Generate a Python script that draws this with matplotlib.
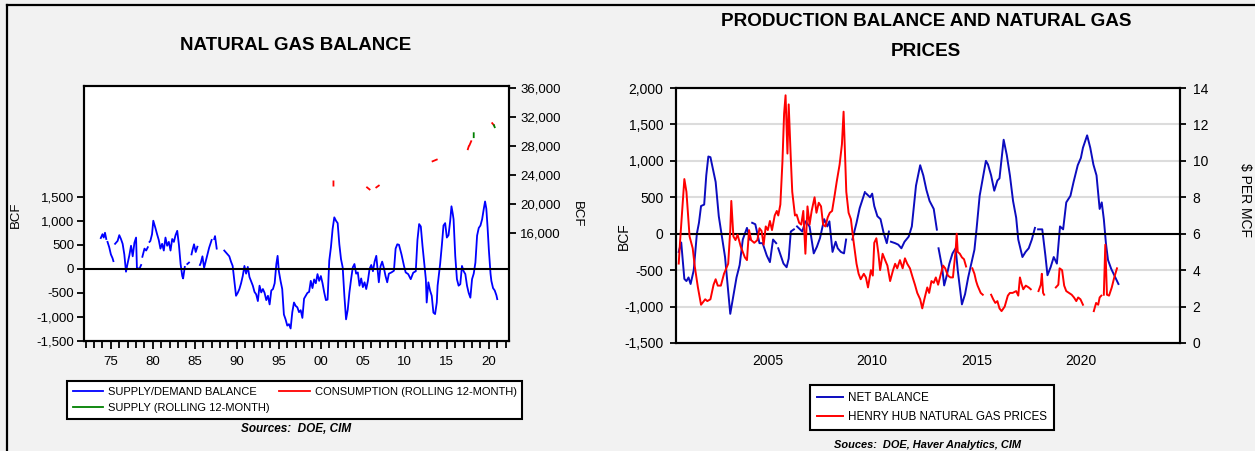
import numpy as np
import matplotlib.pyplot as plt
from matplotlib import font_manager
from matplotlib.lines import Line2D
from matplotlib.ticker import FuncFormatter

nan = np.nan

# ---- left chart: natural gas balance (BCF) ----
bal_year = [1973.8, 1974.0, 1974.15, 1974.3, 1974.45, nan, 1974.6, 1974.8, 1975.0, 1975.2, 1975.3, nan,
            1975.5, 1975.6, 1975.8, 1976.0, 1976.2, 1976.4, 1976.6, 1976.8, 1977.0, 1977.2, 1977.4,
            1977.6, 1977.8, 1978.0, 1978.1, 1978.4, 1978.6, nan, 1978.75, 1979.0, 1979.2, 1979.4, nan,
            1979.6, 1979.7, 1979.9, 1980.05, 1980.3, 1980.5, 1980.7, 1980.9, 1981.1, 1981.3, 1981.5,
            1981.7, 1981.9, 1982.1, 1982.3, 1982.5, 1982.7, 1982.9, 1983.1, 1983.3, 1983.5, 1983.6,
            1983.8, nan, 1984.1, 1984.3, nan, 1984.6, 1984.7, 1984.9, 1985.1, 1985.3, nan, 1985.6, 1985.7,
            1985.9, 1986.1, 1986.3, 1986.5, 1986.7, 1987.0, nan, 1987.3, 1987.4, 1987.6, nan, 1988.5,
            1988.7, 1988.9, 1989.1, 1989.3, 1989.5, 1989.7, 1989.9, 1990.1, 1990.3, 1990.5, 1990.7,
            1990.9, 1991.1, 1991.3, 1991.5, 1991.7, 1991.9, 1992.1, 1992.3, 1992.5, 1992.7, 1992.9,
            1993.1, 1993.3, 1993.5, 1993.7, 1993.9, 1994.1, 1994.3, 1994.5, 1994.7, 1994.85, 1995.0,
            1995.2, 1995.4, 1995.6, 1995.8, 1996.0, 1996.2, 1996.4, 1996.6, 1996.8, 1997.0, 1997.2,
            1997.4, 1997.6, 1997.8, 1998.0, 1998.2, 1998.4, 1998.6, 1998.8, 1999.0, 1999.2, 1999.4,
            1999.6, 1999.8, 2000.0, 2000.2, 2000.4, 2000.6, 2000.8, 2001.0, 2001.2, 2001.4, 2001.6,
            2001.8, 2002.0, 2002.2, 2002.4, 2002.6, 2002.8, 2003.0, 2003.2, 2003.4, 2003.6, 2003.8,
            2004.0, 2004.2, 2004.4, 2004.6, 2004.8, 2005.0, 2005.2, 2005.4, 2005.6, 2005.8, 2006.0,
            2006.2, 2006.4, 2006.6, 2006.8, 2006.9, 2007.1, 2007.3, 2007.5, 2007.7, 2007.9, 2008.1,
            2008.4, 2008.7, 2008.9, 2009.1, 2009.3, 2009.6, 2009.9, 2010.1, 2010.4, 2010.7, 2011.0,
            2011.3, 2011.5, 2011.7, 2011.9, 2012.1, 2012.3, 2012.5, 2012.6, 2012.8, 2013.0, 2013.2,
            2013.4, 2013.6, 2013.8, 2013.9, 2014.2, 2014.4, 2014.6, 2014.8, 2015.0, 2015.2, 2015.4,
            2015.55, 2015.7, 2015.8, 2016.0, 2016.2, 2016.4, 2016.6, 2016.8, 2017.0, 2017.2, 2017.4,
            2017.6, 2017.8, 2018.0, 2018.2, 2018.4, 2018.6, 2018.8, 2019.0, 2019.2, 2019.4, 2019.55,
            2019.7, 2019.85, 2020.0, 2020.2, 2020.3, 2020.5, 2020.7, 2020.9, 2021.0]
bal_val = [640, 720, 650, 750, 620, nan, 560, 450, 300, 220, 160, nan,
           520, 540, 580, 700, 620, 520, 300, -60, 120, 280, 480,
           260, 540, 650, 20, 0, 80, nan, 250, 420, 380, 450, nan,
           560, 580, 720, 1000, 850, 720, 600, 420, 520, 380, 650,
           480, 560, 380, 620, 560, 700, 790, 500, 100, -150, -200,
           40, nan, 100, 130, nan, 300, 380, 510, 350, 460, nan, 80, 120,
           260, 20, 160, 300, 440, 600, nan, 620, 680, 420, nan, 380,
           340, 300, 260, 150, 60, -250, -560, -500, -420, -300, -150,
           60, -100, 40, -170, -260, -350, -480, -530, -670, -350, -490,
           -420, -500, -650, -560, -740, -450, -420, -300, 100, 270, -50,
           -250, -420, -950, -1050, -1180, -1150, -1240, -900, -700, -770, -800,
           -900, -860, -1020, -620, -560, -500, -480, -250, -400, -220, -300,
           -110, -250, -150, -300, -490, -650, -640, 170, 450, 830, 1070,
           1000, 950, 510, 200, 30, -560, -1050, -850, -490, -215, 30,
           100, -100, -75, -350, -200, -380, -280, -420, -250, 0, 80,
           -50, 150, 270, -100, -280, 50, 150, 20, -150, -280, -100,
           -75, -40, 420, 510, 500, 300, 60, -75, -110, -215, -80,
           -50, 600, 930, 880, 480, 130, -215, -700, -280, -450, -560,
           -910, -940, -700, -350, 100, 480, 900, 950, 650, 700, 1000,
           1300, 1150, 1030, 270, -215, -350, -320, 60, -50, -110, -350,
           -500, -600, -215, -100, 130, 690, 850, 900, 1030, 1250, 1400,
           1250, 860, 400, -100, -250, -400, -450, -550, -630]

cons_year = [2001.5, 2001.5, nan, 2005.5, 2005.8, nan, 2006.6, 2006.9, nan, 2013.3, 2013.8, nan,
             2017.5, 2017.6, nan, 2017.7, 2017.9, nan, 2020.4, 2020.6]
cons_val = [23080, 22500, nan, 22250, 21970, nan, 22250, 22500, nan, 25860, 26100, nan,
            27530, 27900, nan, 28100, 28640, nan, 31140, 30860]
supp_year = [2018.2, 2018.2, nan, 2020.6, 2020.7]
supp_val = [29200, 29750, nan, 30860, 30580]

# ---- right chart: net balance (BCF) and Henry Hub price ($/MCF) ----
net_year = [2000.73, 2000.85, 2001.0, 2001.1, 2001.2, 2001.3, 2001.45, 2001.6, 2001.7, 2001.8, 2001.95,
            2002.05, 2002.15, 2002.25, 2002.4, 2002.5, 2002.65, 2002.8, 2002.95, 2003.1, 2003.2,
            2003.35, 2003.5, 2003.65, 2003.8, 2004.0, 2004.15, nan, 2004.25, 2004.4, 2004.6, 2004.75,
            2004.95, 2005.1, 2005.25, 2005.4, nan, 2005.5, 2005.75, 2005.9, 2006.0, 2006.1, 2006.25,
            nan, 2006.4, 2006.65, 2006.8, 2007.0, 2007.2, 2007.35, 2007.5, 2007.7, 2007.85, 2007.95,
            2008.1, 2008.25, 2008.35, 2008.5, 2008.65, 2008.75, nan, 2009.05, 2009.25, 2009.4, 2009.55,
            2009.65, nan, 2009.72, 2009.9, 2010.0, 2010.1, 2010.25, 2010.4, 2010.55, 2010.7, 2010.8,
            nan, 2010.9, 2011.1, 2011.25, 2011.4, 2011.55, 2011.75, 2011.9, 2012.1, 2012.3, 2012.45,
            2012.6, 2012.75, 2012.95, 2013.1, nan, 2013.18, 2013.35, 2013.45, 2013.55, 2013.7, 2013.85,
            2014.0, 2014.1, 2014.3, 2014.45, 2014.6, 2014.75, 2014.9, 2015.0, 2015.15, 2015.3,
            2015.45, 2015.55, 2015.7, 2015.85, 2016.0, 2016.1, 2016.3, 2016.45, 2016.6, 2016.75,
            2016.9, 2017.0, 2017.2, 2017.35, 2017.5, 2017.65, 2017.8, nan, 2017.95, 2018.15,
            2018.3, 2018.4, 2018.55, 2018.7, 2018.85, 2019.0, 2019.15, 2019.3, 2019.5, 2019.65,
            2019.85, 2020.0, 2020.1, 2020.3, 2020.45, 2020.6, 2020.75, 2020.9, 2021.0, 2021.1,
            2021.2, 2021.3, 2021.45, 2021.6, 2021.8]
net_val = [-250, -120, -620, -650, -600, -690, -500, 0, 150, 380, 400,
           800, 1060, 1050, 850, 710, 240, -40, -320, -780, -1100,
           -850, -600, -430, -80, 80, -80, nan, 150, 130, -130, -130,
           -300, -390, -80, -130, nan, -200, -410, -460, -340, 30, 60,
           nan, 100, 30, 170, 100, -270, -180, -60, 200, 100, 170,
           -250, -110, -200, -250, -270, -80, nan, -80, 150, 350, 480,
           570, nan, 550, 500, 550, 380, 240, 200, 10, -130, 30,
           nan, -110, -130, -150, -200, -110, -40, 100, 660, 940, 800,
           600, 450, 340, 56, nan, -200, -460, -710, -600, -410, -270,
           -200, -500, -970, -830, -600, -410, -220, 60, 520, 760,
           1000, 950, 800, 590, 730, 760, 1290, 1080, 800, 450,
           220, -80, -320, -250, -200, -80, 80, nan, 60, 60,
           -300, -570, -460, -320, -410, 100, 60, 430, 520, 710,
           940, 1040, 1180, 1350, 1180, 950, 800, 340, 430, 200,
           -130, -360, -480, -570, -690]

hh_year = [2000.73, 2000.8, 2001.0, 2001.1, 2001.25, 2001.4, 2001.5, 2001.65, 2001.8, 2002.0, 2002.1,
           2002.25, 2002.4, 2002.5, 2002.6, 2002.75, 2002.9, 2003.1, 2003.2, 2003.25, 2003.35,
           2003.45, 2003.55, 2003.7, 2003.8, 2003.9, 2004.0, 2004.1, 2004.2, 2004.35, 2004.5,
           2004.6, 2004.7, 2004.8, 2004.9, 2005.0, 2005.1, 2005.2, 2005.33, 2005.43, 2005.5,
           2005.6, 2005.7, 2005.78, 2005.85, 2005.94, 2006.0, 2006.1, 2006.17, 2006.3, 2006.38,
           2006.5, 2006.6, 2006.7, 2006.8, 2006.9, 2007.0, 2007.1, 2007.24, 2007.33, 2007.44,
           2007.55, 2007.65, 2007.76, 2007.87, 2007.97, 2008.08, 2008.2, 2008.3, 2008.44, 2008.55,
           2008.63, 2008.76, 2008.87, 2008.98, 2009.1, 2009.25, 2009.35, 2009.45, 2009.6, 2009.7,
           2009.8, 2009.94, 2010.03, 2010.1, 2010.2, 2010.3, 2010.38, 2010.5, 2010.62, 2010.73,
           2010.86, 2011.0, 2011.1, 2011.2, 2011.33, 2011.46, 2011.57, 2011.68, 2011.81, 2011.94,
           2012.05, 2012.16, 2012.3, 2012.4, 2012.5, 2012.64, 2012.73, 2012.84, 2012.95, 2013.05,
           2013.16, 2013.27, 2013.4, 2013.5, 2013.63, 2013.75, 2013.87, 2014.0, 2014.05, 2014.1,
           2014.2, 2014.3, 2014.4, 2014.5, nan, 2014.8, 2014.9, 2014.98, 2015.05, 2015.2, 2015.3,
           nan, 2015.7, 2015.8, 2015.9, 2016.0, 2016.1, 2016.2, 2016.35, 2016.5, 2016.6, 2016.73,
           2016.9, 2017.0, 2017.08, 2017.17, 2017.24, 2017.36, 2017.5, 2017.6, nan, 2017.97,
           2018.08, 2018.13, 2018.19, 2018.24, nan, 2018.8, 2018.92, 2018.98, 2019.1, 2019.2,
           2019.3, 2019.43, 2019.56, 2019.67, 2019.78, 2019.87, 2019.98, 2020.1, nan, 2020.62,
           2020.73, 2020.83, 2020.9, 2020.98, nan, 2021.1, 2021.17, 2021.25, 2021.35, 2021.48,
           2021.6, 2021.73]
hh_val = [4.36, 5.66, 9.0, 8.3, 5.85, 5.2, 4.2, 3.05, 2.1, 2.4, 2.3,
          2.4, 3.2, 3.5, 3.15, 3.15, 3.8, 4.35, 6.2, 7.8, 5.85,
          5.65, 5.95, 5.3, 5.0, 4.7, 4.55, 6.2, 5.65, 5.5, 5.65,
          6.3, 6.15, 5.4, 6.4, 6.2, 6.7, 6.2, 7.0, 7.25, 7.0,
          7.6, 9.95, 12.6, 13.6, 10.4, 13.1, 10.15, 8.3, 7.0, 7.05,
          6.6, 6.5, 7.25, 4.9, 7.5, 6.5, 7.25, 8.0, 7.15, 7.7,
          7.5, 6.5, 6.4, 6.9, 7.15, 7.25, 8.1, 8.85, 9.8, 10.9,
          12.7, 8.3, 7.15, 6.8, 5.65, 4.35, 3.8, 3.5, 3.8, 3.6,
          3.05, 4.0, 3.7, 5.5, 5.75, 4.9, 4.0, 4.9, 4.55, 4.25,
          3.4, 4.0, 4.35, 4.1, 4.55, 4.1, 4.65, 4.35, 4.1, 3.6,
          3.2, 2.75, 2.4, 1.9, 2.4, 3.05, 2.75, 3.4, 3.3, 3.6,
          3.2, 3.7, 4.25, 4.1, 3.7, 3.6, 3.6, 5.1, 6.0, 5.0,
          4.9, 4.7, 4.6, 4.2, nan, 4.1, 3.8, 3.4, 3.15, 2.75, 2.65,
          nan, 2.65, 2.4, 2.2, 2.3, 1.9, 1.75, 2.0, 2.6, 2.75, 2.75,
          2.85, 2.6, 3.6, 3.2, 2.95, 3.15, 3.05, 2.95, nan, 2.85,
          3.2, 3.8, 2.75, 2.65, nan, 3.05, 3.2, 4.1, 4.0, 3.15,
          2.85, 2.75, 2.65, 2.5, 2.3, 2.5, 2.4, 2.1, nan, 1.75,
          2.2, 2.1, 2.5, 2.6, nan, 2.65, 5.4, 2.65, 2.6, 3.05,
          3.6, 4.1]

W, H = 1255, 451
names = {f.name for f in font_manager.fontManager.ttflist}
ARIAL = ['Liberation Sans', 'DejaVu Sans']
if 'Liberation Sans Narrow' in names:
    NFONT, NS = ['Liberation Sans Narrow', 'Liberation Sans', 'DejaVu Sans'], 1.0
else:
    NFONT, NS = ARIAL, 0.82

plt.rcParams['font.family'] = ARIAL
fig = plt.figure(figsize=(W / 100, H / 100), dpi=100, facecolor='#f2f2f2')


def box(l, t, r, b):
    return [l / W, 1 - b / H, (r - l) / W, (b - t) / H]


# outer frame lines (top and left)
fig.add_artist(Line2D([7 / W, 1], [1 - 5 / H, 1 - 5 / H], color='black', lw=1.6))
fig.add_artist(Line2D([7 / W, 7 / W], [0, 1 - 5 / H], color='black', lw=1.6))

comma = FuncFormatter(lambda v, p: f'{v:,.0f}')

# ---------------- left chart ----------------
ax1 = fig.add_axes(box(84, 86, 509, 341))
ax1.set_facecolor('white')
h_bal, = ax1.plot(bal_year, bal_val, color='#0000ff', lw=1.3)
ax1.axhline(0, color='black', lw=1.5)
ax1.set_xlim(1971.8, 2022.4)
ax1.set_ylim(-1500, 3800)
ax1.set_yticks(range(-1500, 2000, 500))
ax1.yaxis.set_major_formatter(comma)
ax1.set_xticks(range(1975, 2021, 5))
ax1.set_xticklabels([f'{y % 100:02d}' for y in range(1975, 2021, 5)])
ax1.set_xticks(range(1972, 2023), minor=True)
ax1.tick_params(axis='x', which='major', direction='out', length=6, width=1.3, pad=5, labelsize=9.5)
ax1.tick_params(axis='x', which='minor', direction='out', length=5, width=1.3)
ax1.tick_params(axis='y', direction='out', length=5, width=1.3, pad=2, labelsize=9.5)
for s in ax1.spines.values():
    s.set_linewidth(1.5)

ax1b = ax1.twinx()
h_cons, = ax1b.plot(cons_year, cons_val, color='#ff0000', lw=1.3)
h_supp, = ax1b.plot(supp_year, supp_val, color='#008000', lw=1.3)
ax1b.set_ylim(1000, 36280)
ax1b.set_yticks(range(16000, 36001, 4000))
ax1b.yaxis.set_major_formatter(comma)
ax1b.tick_params(axis='y', direction='out', length=5, width=1.3, pad=3, labelsize=9.5)
for s in ax1b.spines.values():
    s.set_linewidth(1.5)

fig.text(296 / W, 1 - 46 / H, 'NATURAL GAS BALANCE', ha='center', va='center',
         fontsize=13.5, fontweight='bold')
fig.text(16 / W, 1 - 215 / H, 'BCF', ha='center', va='center', rotation=90, fontsize=9.5)
fig.text(577 / W, 1 - 214 / H, 'BCF', ha='center', va='center', rotation=270, fontsize=9.5)

leg1 = fig.legend([h_bal, h_supp, h_cons],
                  ['SUPPLY/DEMAND BALANCE', 'SUPPLY (ROLLING 12-MONTH)', 'CONSUMPTION (ROLLING 12-MONTH)'],
                  ncol=2, loc='upper left', bbox_to_anchor=(67 / W, 1 - 381 / H), borderaxespad=0,
                  frameon=True, fancybox=False, edgecolor='black', framealpha=1,
                  prop={'family': NFONT, 'size': 9.8 * NS}, handlelength=2.7, handletextpad=0.45,
                  columnspacing=0.9, labelspacing=0.6, borderpad=0.5)
leg1.get_frame().set_linewidth(1.5)
fig.text(296 / W, 1 - 429 / H, 'Sources:  DOE, CIM', ha='center', va='center',
         fontsize=8.5, fontweight='bold', fontstyle='italic')

# ---------------- right chart ----------------
ax2 = fig.add_axes(box(676, 88, 1180, 343))
ax2.set_facecolor('white')
ax2.set_axisbelow(True)
ax2.grid(axis='y', color='#dcdcdc', lw=1.5)
h_net, = ax2.plot(net_year, net_val, color='#0c0cbf', lw=1.4)
ax2.axhline(0, color='black', lw=1.5)
ax2.set_xlim(2000.6, 2024.75)
ax2.set_ylim(-1500, 2000)
ax2.set_yticks(range(-1500, 2001, 500))
ax2.yaxis.set_major_formatter(comma)
ax2.set_xticks([2005, 2010, 2015, 2020])
ax2.tick_params(axis='x', length=0, pad=8, labelsize=10)
ax2.tick_params(axis='y', direction='out', length=4, width=1.3, pad=5, labelsize=10)
for s in ax2.spines.values():
    s.set_linewidth(1.5)

ax2b = ax2.twinx()
h_hh, = ax2b.plot(hh_year, hh_val, color='#ff0000', lw=1.4)
ax2b.set_ylim(0, 14)
ax2b.set_yticks(range(0, 15, 2))
ax2b.tick_params(axis='y', direction='out', length=4, width=1.3, pad=5, labelsize=10)
for s in ax2b.spines.values():
    s.set_linewidth(1.5)

fig.text(926 / W, 1 - 21 / H, 'PRODUCTION BALANCE AND NATURAL GAS', ha='center', va='center',
         family=NFONT, fontsize=16.6 * NS, fontweight='bold')
fig.text(926 / W, 1 - 51 / H, 'PRICES', ha='center', va='center',
         family=NFONT, fontsize=16.6 * NS, fontweight='bold')
fig.text(624 / W, 1 - 236 / H, 'BCF', ha='center', va='center', rotation=90, fontsize=10)
fig.text(1245 / W, 1 - 200 / H, '$ PER MCF', ha='center', va='center', rotation=270, fontsize=10)

leg2 = fig.legend([h_net, h_hh], ['NET BALANCE', 'HENRY HUB NATURAL GAS PRICES'],
                  loc='upper left', bbox_to_anchor=(810 / W, 1 - 385 / H), borderaxespad=0,
                  frameon=True, fancybox=False, edgecolor='black', framealpha=1,
                  prop={'family': NFONT, 'size': 10.2 * NS}, handlelength=2.2, handletextpad=0.45,
                  labelspacing=0.6, borderpad=0.6)
leg2.get_frame().set_linewidth(1.5)
fig.text(927 / W, 1 - 445 / H, 'Souces:  DOE, Haver Analytics, CIM', ha='center', va='center',
         family=NFONT, fontsize=9.7 * NS, fontweight='bold', fontstyle='italic')

fig.savefig('out.png', dpi=100, facecolor=fig.get_facecolor())
